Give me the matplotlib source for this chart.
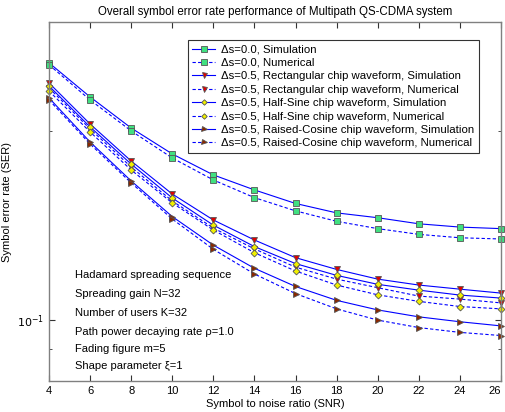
import matplotlib
matplotlib.use("Agg")
import matplotlib.pyplot as plt
from matplotlib.ticker import FixedLocator, NullFormatter, FixedFormatter

plt.rcParams['font.family'] = ['Liberation Sans', 'DejaVu Sans']

snr = [4, 6, 8, 10, 12, 14, 16, 18, 20, 22, 24, 26]

# values
ser_s0_sim = [0.2566, 0.2265, 0.2021, 0.1838, 0.1702, 0.1611, 0.1533, 0.1481, 0.1455, 0.1423, 0.1406, 0.1398]
ser_s0_num = [0.2548, 0.2240, 0.2000, 0.1811, 0.1671, 0.1566, 0.1492, 0.1436, 0.1398, 0.1369, 0.1352, 0.1346]
ser_rect_sim = [0.2384, 0.2051, 0.1791, 0.1587, 0.1443, 0.1341, 0.1257, 0.1204, 0.1162, 0.1137, 0.1120, 0.1104]
ser_rect_num = [0.2341, 0.2014, 0.1752, 0.1547, 0.1401, 0.1298, 0.1214, 0.1162, 0.1126, 0.1092, 0.1080, 0.1065]
ser_hs_sim = [0.2358, 0.2029, 0.1771, 0.1564, 0.1416, 0.1309, 0.1230, 0.1178, 0.1140, 0.1116, 0.1096, 0.1084]
ser_hs_num = [0.2315, 0.1992, 0.1733, 0.1536, 0.1391, 0.1280, 0.1197, 0.1137, 0.1097, 0.1071, 0.1051, 0.1042]
ser_rc_sim = [0.2257, 0.1920, 0.1665, 0.1461, 0.1316, 0.1209, 0.1131, 0.1075, 0.1038, 0.1012, 0.0994, 0.0979]
ser_rc_num = [0.2240, 0.1906, 0.1653, 0.1448, 0.1296, 0.1184, 0.1102, 0.1042, 0.1000, 0.0973, 0.0956, 0.0945]

labels = [
    '\u0394s=0.0, Simulation',
    '\u0394s=0.0, Numerical',
    '\u0394s=0.5, Rectangular chip waveform, Simulation',
    '\u0394s=0.5, Rectangular chip waveform, Numerical',
    '\u0394s=0.5, Half-Sine chip waveform, Simulation',
    '\u0394s=0.5, Half-Sine chip waveform, Numerical',
    '\u0394s=0.5, Raised-Cosine chip waveform, Simulation',
    '\u0394s=0.5, Raised-Cosine chip waveform, Numerical',
]

notes = [
    'Hadamard spreading sequence',
    'Spreading gain N=32',
    'Number of users K=32',
    'Path power decaying rate \u03c1=1.0',
    'Fading figure m=5',
    'Shape parameter \u03be=1',
]

fig = plt.figure(figsize=(5.05, 4.12), dpi=100)
ax = fig.add_axes([0.097, 0.0752, 0.895, 0.8714])

series = [
    (ser_s0_sim, '-', 's', '#40e080', 5.0),
    (ser_s0_num, '--', 's', '#40e080', 5.0),
    (ser_rect_sim, '-', 'v', '#e00000', 4.5),
    (ser_rect_num, '--', 'v', '#e00000', 4.5),
    (ser_hs_sim, '-', 'D', '#f0f000', 3.5),
    (ser_hs_num, '--', 'D', '#f0f000', 3.5),
    (ser_rc_sim, '-', '>', '#8b2800', 4.5),
    (ser_rc_num, '--', '>', '#8b2800', 4.5),
]

for (vals, ls, mk, fc, ms), lab in zip(series, labels):
    ax.plot(snr, vals, linestyle=ls, color='#0000ff', linewidth=0.8,
            marker=mk, markerfacecolor=fc, markeredgecolor='#555555',
            markeredgewidth=0.6, markersize=ms, label=lab,
            dashes=(3, 2) if ls == '--' else (None, None), clip_on=False)

ax.set_yscale('log')
ax.set_xlim(4, 26)
ax.set_ylim(0.08, 0.298)
ax.set_xticks(snr)
ax.set_xticklabels([str(v) for v in snr])
ax.get_xticklabels()[-1].set_horizontalalignment('right')
ax.yaxis.set_major_locator(FixedLocator([0.1]))
ax.yaxis.set_major_formatter(FixedFormatter(['$10^{-1}$']))
ax.yaxis.set_minor_locator(FixedLocator([0.09, 0.2]))
ax.yaxis.set_minor_formatter(NullFormatter())
ax.tick_params(axis='both', which='both', direction='in', top=True, right=True,
               labelsize=8, color='#333333')
ax.tick_params(which='major', length=4)
ax.tick_params(which='minor', length=2.5)
for sp in ax.spines.values():
    sp.set_color('#808080')
    sp.set_linewidth(1.0)

ax.set_title('Overall symbol error rate performance of Multipath QS-CDMA system',
             fontsize=8.3, pad=5)
ax.set_xlabel('Symbol to noise ratio (SNR)', fontsize=8, labelpad=2)
ax.set_ylabel('Symbol error rate (SER)', fontsize=8, labelpad=4)

ys = [275, 294, 313, 332, 349, 366]
for txt, yp in zip(notes, ys):
    ax.text(75 / 505, 1 - yp / 412, txt, transform=fig.transFigure,
            fontsize=8, va='center', ha='left')

leg = ax.legend(loc='upper right', bbox_to_anchor=(479 / 505, 1 - 40 / 412),
                bbox_transform=fig.transFigure, fontsize=8.2,
                frameon=True, fancybox=False, handlelength=2.0,
                borderpad=0.4, labelspacing=0.3, handletextpad=0.55,
                borderaxespad=0, markerscale=0.8)
leg.get_frame().set_edgecolor('black')
leg.get_frame().set_linewidth(0.8)

fig.savefig('out.png', dpi=100)
